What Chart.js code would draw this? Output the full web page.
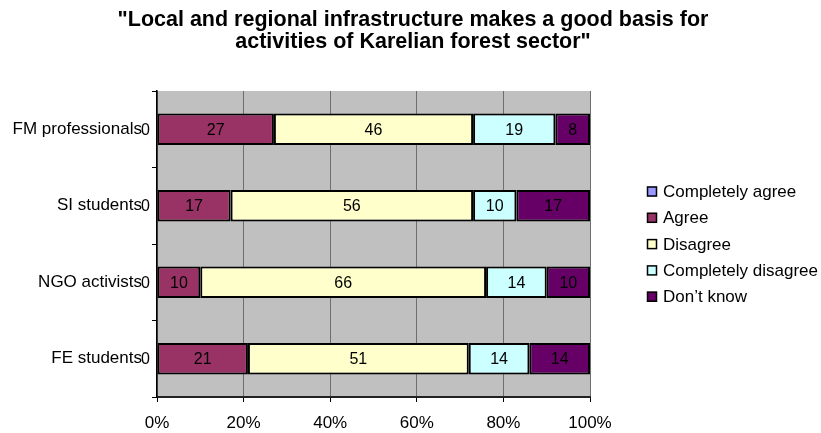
<!DOCTYPE html>
<html>
<head>
<meta charset="utf-8">
<script src="https://cdn.jsdelivr.net/npm/chart.js@4"></script>
<style>
  html, body { margin: 0; padding: 0; background: #fff; }
  #wrap { width: 821px; height: 433px; }
</style>
</head>
<body>
<div id="wrap"><canvas id="chart" width="821" height="433"></canvas></div>
<script>
(function () {
    const categories = ['FM professionals', 'SI students', 'NGO activists', 'FE students'];
    const seriesNames = ['Completely agree', 'Agree', 'Disagree', 'Completely disagree', 'Don\u2019t know'];
    const completelyAgree = [0, 0, 0, 0];
    const agree = [27, 17, 10, 21];
    const disagree = [46, 56, 66, 51];
    const completelyDisagree = [19, 10, 14, 14];
    const dontKnow = [8, 17, 10, 14];
    const xTicks = [0, 20, 40, 60, 80, 100];
    const titleLines = ['"Local and regional infrastructure makes a good basis for', 'activities of Karelian forest sector"'];

    const colors = ['#9999FF', '#993366', '#FFFFCC', '#CCFFFF', '#660066'];
    const font = 'Arial, "Liberation Sans", sans-serif';
    const values = [completelyAgree, agree, disagree, completelyDisagree, dontKnow];

    const datasets = seriesNames.map(function (name, i) {
        return {
            label: name,
            data: values[i].slice(),
            backgroundColor: colors[i],
            borderColor: '#000',
            borderWidth: 2,
            borderSkipped: false,
            barPercentage: 0.41,
            categoryPercentage: 1
        };
    });

    // plot background, bar labels, title and legend
    const decor = {
        id: 'decor',
        beforeDraw: function (chart) {
            const a = chart.chartArea;
            const ctx = chart.ctx;
            ctx.save();
            ctx.fillStyle = '#C0C0C0';
            ctx.fillRect(a.left, a.top, a.right - a.left, a.bottom - a.top);
            ctx.restore();
        },
        afterDatasetsDraw: function (chart) {
            const ctx = chart.ctx;
            ctx.save();
            ctx.font = '16px ' + font;
            ctx.fillStyle = '#000';
            ctx.textBaseline = 'middle';
            chart.data.datasets.forEach(function (ds, di) {
                const meta = chart.getDatasetMeta(di);
                meta.data.forEach(function (bar, i) {
                    const v = ds.data[i];
                    if (v === 0) {
                        ctx.textAlign = 'right';
                        ctx.fillText('0', bar.base - 7, bar.y + 1);
                    } else {
                        ctx.textAlign = 'center';
                        ctx.fillText(String(v), (bar.x + bar.base) / 2, bar.y + 1);
                    }
                });
            });

            // title
            ctx.font = 'bold 21.5px ' + font;
            ctx.textAlign = 'center';
            titleLines.forEach(function (line, i) {
                ctx.fillText(line, 413, 20 + i * 22);
            });

            // legend
            ctx.font = '17px ' + font;
            ctx.textAlign = 'left';
            chart.data.datasets.forEach(function (ds, i) {
                const y = 191.5 + i * 26.3;
                ctx.fillStyle = ds.backgroundColor;
                ctx.fillRect(647, y - 5, 10, 10);
                ctx.strokeStyle = '#000';
                ctx.lineWidth = 1.5;
                ctx.strokeRect(647.5, y - 4.5, 9, 9);
                ctx.fillStyle = '#000';
                ctx.fillText(ds.label, 663, y + 1);
            });
            ctx.restore();
        }
    };

    new Chart(document.getElementById('chart').getContext('2d'), {
        type: 'bar',
        data: { labels: categories.slice(), datasets: datasets },
        options: {
            indexAxis: 'y',
            responsive: false,
            animation: false,
            layout: { padding: { top: 91, right: 231, left: 0, bottom: 0 } },
            plugins: {
                legend: { display: false },
                title: { display: false },
                tooltip: { enabled: false }
            },
            scales: {
                x: {
                    stacked: true,
                    min: 0,
                    max: 100,
                    afterBuildTicks: function (scale) {
                        scale.ticks = xTicks.map(function (v) { return { value: v }; });
                    },
                    afterFit: function (scale) { scale.height = 36; },
                    ticks: {
                        color: '#000',
                        font: { family: font, size: 17 },
                        padding: 11,
                        maxRotation: 0,
                        callback: function (v) { return v + '%'; }
                    },
                    grid: { color: '#6e6e6e', lineWidth: 1, tickLength: 5, tickColor: '#000' },
                    border: { color: '#222', width: 2 }
                },
                y: {
                    stacked: true,
                    afterFit: function (scale) { scale.width = 157; },
                    ticks: {
                        color: '#000',
                        font: { family: font, size: 17 },
                        padding: 10
                    },
                    grid: { offset: true, drawOnChartArea: false, tickLength: 5, color: '#000' },
                    border: { color: '#000', width: 1.5 }
                }
            }
        },
        plugins: [decor]
    });
})();
</script>
</body>
</html>
